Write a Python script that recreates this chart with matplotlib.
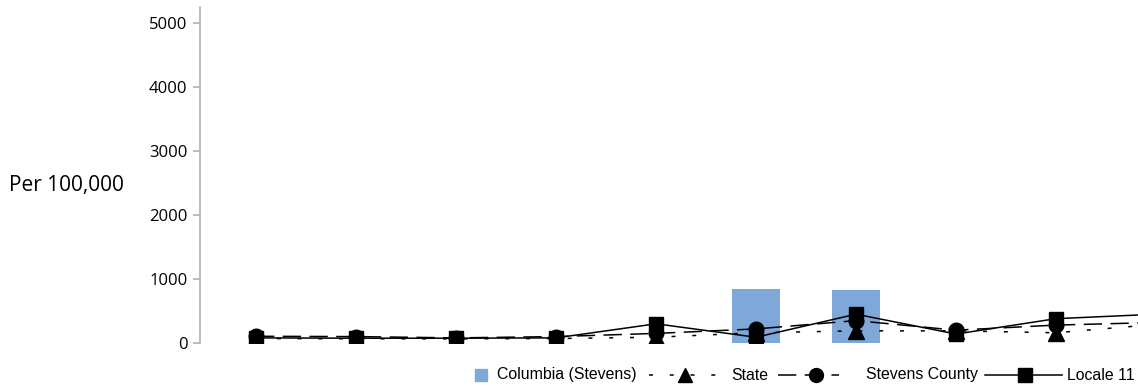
import matplotlib
matplotlib.use("Agg")
import matplotlib.pyplot as plt
from matplotlib.lines import Line2D
from matplotlib.transforms import IdentityTransform
import numpy as np

categories = list(range(10))
columbia = [np.nan, np.nan, np.nan, np.nan, np.nan, 840, 830, np.nan, np.nan, np.nan]
state = [70, 65, 65, 70, 90, 160, 190, 190, 160, 290]
stevens = [105, 100, 80, 100, 150, 220, 350, 200, 280, 320]
locale11 = [80, 75, 75, 80, 300, 90, 450, 140, 380, 450]
y_ticks = [0, 1000, 2000, 3000, 4000, 5000]
series_names = ['Columbia (Stevens)', 'State', 'Stevens County', 'Locale 11']

plt.rcParams['font.family'] = ['Open Sans', 'DejaVu Sans']

W, H = 1138, 386
fig = plt.figure(figsize=(W / 100, H / 100), dpi=100)
ax = fig.add_axes([200 / W, 43 / H, 1 - 200 / W, (343 - 7) / H])
x = np.arange(len(categories))

BAR_COLOR = '#7fa7d8'
STATE_LS = (0, (2.6, 11.0))
STEVENS_LS = (0, (12.0, 5.5))

ax.bar(x, columbia, width=0.48, color=BAR_COLOR, zorder=1)
ax.plot(x, state, color='black', lw=1.1, ls=STATE_LS, marker='^', ms=11, zorder=2)
ax.plot(x, stevens, color='black', lw=1.1, ls=STEVENS_LS, marker='o', ms=10.5, zorder=3)
ax.plot(x, locale11, color='black', lw=1.1, ls='-', marker='s', ms=10, zorder=4)

ax.set_xlim(-0.56, 8.82)
ax.set_ylim(0, 5250)
ax.set_yticks(y_ticks)
ax.set_yticklabels([str(v) for v in y_ticks], fontsize=12)
ax.set_xticks([])
for s in ['top', 'right', 'bottom']:
    ax.spines[s].set_visible(False)
ax.spines['left'].set_color('#b0b0b0')
ax.spines['left'].set_linewidth(1.2)
ax.tick_params(axis='y', colors='#b0b0b0', labelcolor='black', length=5, width=1.2, pad=4)

fig.text(9 / W, 1 - 186 / H, 'Per 100,000', fontsize=15, va='center', ha='left')

# manual legend (pixel coordinates, origin top-left)
ident = IdentityTransform()
ly = H - 375
def add_line(x0, x1, ls, marker, mx, ms, color='black'):
    fig.add_artist(Line2D([x0, x1], [ly, ly], transform=ident, color=color, lw=1.1, ls=ls))
    fig.add_artist(Line2D([mx], [ly], transform=ident, color=color, marker=marker, ms=ms, ls='none'))

fig.add_artist(Line2D([481], [ly], transform=ident, color=BAR_COLOR, marker='s', ms=8.8, ls='none'))
legend_font = dict(family=['Liberation Sans', 'DejaVu Sans'], size=11.4, va='center', ha='left')
fig.text(497 / W, ly / H, series_names[0], **legend_font)
add_line(649, 717, STATE_LS, '^', 685, 10)
fig.text(731 / W, ly / H, series_names[1], **legend_font)
add_line(778, 839, STEVENS_LS, 'o', 816, 10)
fig.text(866 / W, ly / H, series_names[2], **legend_font)
add_line(985, 1062, '-', 's', 1025, 10)
fig.text(1067 / W, ly / H, series_names[3], **legend_font)

fig.savefig('out.png', dpi=100)
